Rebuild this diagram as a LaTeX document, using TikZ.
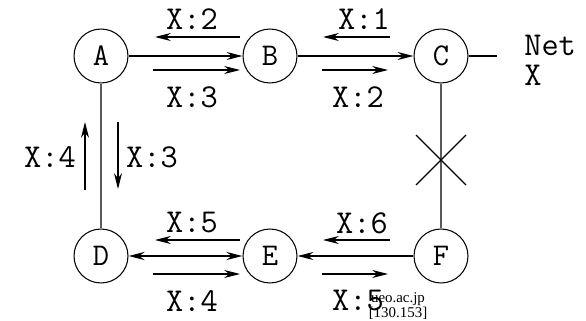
\documentclass[tikz,border=0pt]{standalone}
\usepackage{fontspec}
\newfontfamily\wmfont{Liberation Serif}
\usetikzlibrary{arrows.meta}

\begin{document}
\begin{tikzpicture}[x=0.02cm,y=-0.02cm,
  router/.style={circle,draw,line width=0.6pt,minimum size=1.08cm,inner sep=0pt,font=\ttfamily\fontsize{18}{20}\selectfont},
  lbl/.style={font=\ttfamily\fontsize{19}{22}\selectfont,inner sep=0pt},
  flow/.style={-{Stealth[length=9pt,width=4.5pt]},line width=0.6pt},
  link/.style={line width=0.6pt,gray!70!black}]
\useasboundingbox (0,0) rectangle (586,321);
% routers
\node[router] (A) at (101,56) {A};
\node[router] (B) at (270,56) {B};
\node[router] (C) at (441,56) {C};
\node[router] (D) at (101,256) {D};
\node[router] (E) at (270,256) {E};
\node[router] (F) at (441,256) {F};
% links
\draw[flow] (A) -- (B);
\draw[flow] (B) -- (C);
\draw[link] (A) -- (D);
\draw[link] (C) -- (F);
\draw[flow,line width=1.6pt,{Stealth[length=9pt,width=4.5pt]}-{Stealth[length=9pt,width=4.5pt]}] (D) -- (E);
\draw[flow] (F) -- (E);
% network X
\coordinate (netend) at (497,56);
\draw[line width=0.6pt] (C) -- (netend);
\node[lbl,anchor=west,align=left,font=\ttfamily\fontsize{19}{17}\selectfont] (net) at (524,60) {Net\\X};
% broken link C--F
\draw[line width=0.8pt] (416,135) -- (466,185);
\draw[line width=0.8pt] (416,185) -- (466,135);
% distance vectors A--B
\coordinate (ab1s) at (240,37); \coordinate (ab1e) at (155,37);
\coordinate (ab2s) at (153,70); \coordinate (ab2e) at (240,70);
\draw[flow] (ab1s) -- (ab1e);
\draw[flow] (ab2s) -- (ab2e);
\node[lbl] (lab1) at (192,19) {X:2};
\node[lbl] (lab2) at (192,97) {X:3};
% distance vectors B--C
\coordinate (bc1s) at (390,37); \coordinate (bc1e) at (323,37);
\coordinate (bc2s) at (322,70); \coordinate (bc2e) at (388,70);
\draw[flow] (bc1s) -- (bc1e);
\draw[flow] (bc2s) -- (bc2e);
\node[lbl] (lbc1) at (364,19) {X:1};
\node[lbl] (lbc2) at (358,97) {X:2};
% distance vectors A--D
\coordinate (ad1s) at (85,190); \coordinate (ad1e) at (85,122);
\coordinate (ad2s) at (118,122); \coordinate (ad2e) at (118,189);
\draw[flow] (ad1s) -- (ad1e);
\draw[flow] (ad2s) -- (ad2e);
\node[lbl] (lad1) at (50,157) {X:4};
\node[lbl] (lad2) at (152,157) {X:3};
% distance vectors D--E
\coordinate (de1s) at (240,240); \coordinate (de1e) at (155,240);
\coordinate (de2s) at (153,274); \coordinate (de2e) at (240,274);
\draw[flow] (de1s) -- (de1e);
\draw[flow] (de2s) -- (de2e);
\node[lbl] (lde1) at (192,223) {X:5};
\node[lbl] (lde2) at (192,301) {X:4};
% distance vectors E--F
\coordinate (ef1s) at (390,240); \coordinate (ef1e) at (323,240);
\coordinate (ef2s) at (322,274); \coordinate (ef2e) at (388,274);
\draw[flow] (ef1s) -- (ef1e);
\draw[flow] (ef2s) -- (ef2e);
\node[lbl] (lef1) at (362,223) {X:6};
\node[lbl] (lef2) at (358,301) {X:5};
% watermark
\node[font=\wmfont\fontsize{8.5}{9}\selectfont,align=center,inner sep=0pt] (wm) at (398,306) {ueo.ac.jp\\{[}130.153{]}};
\end{tikzpicture}
\end{document}
